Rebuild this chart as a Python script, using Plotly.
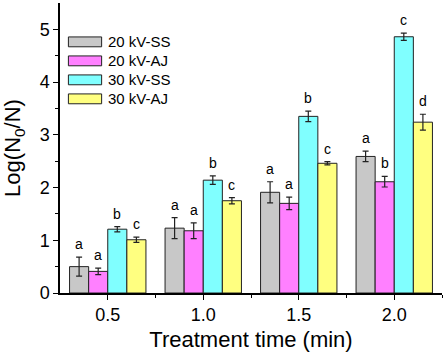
import plotly.graph_objects as go

times = [0.5, 1.0, 1.5, 2.0]
series_names = ["20 kV-SS", "20 kV-AJ", "30 kV-SS", "30 kV-AJ"]
values_20ss = [0.50, 1.23, 1.91, 2.59]
values_20aj = [0.41, 1.18, 1.70, 2.11]
values_30ss = [1.21, 2.14, 3.35, 4.86]
values_30aj = [1.01, 1.75, 2.46, 3.24]
err_20ss = [0.18, 0.20, 0.20, 0.10]
err_20aj = [0.06, 0.15, 0.12, 0.10]
err_30ss = [0.05, 0.08, 0.10, 0.07]
err_30aj = [0.05, 0.06, 0.03, 0.15]
letters_20ss = ["a", "a", "a", "a"]
letters_20aj = ["a", "a", "a", "b"]
letters_30ss = ["b", "b", "b", "c"]
letters_30aj = ["c", "c", "c", "d"]
colors = ["#C8C8C8", "#FF80FF", "#80FFFF", "#FFFF80"]

values = [values_20ss, values_20aj, values_30ss, values_30aj]
errors = [err_20ss, err_20aj, err_30ss, err_30aj]
letters = [letters_20ss, letters_20aj, letters_30ss, letters_30aj]

FONT = "Liberation Sans, Arial, sans-serif"
fig = go.Figure()
bar_w = 0.1
offsets = [-1.5 * bar_w, -0.5 * bar_w, 0.5 * bar_w, 1.5 * bar_w]

for i, name in enumerate(series_names):
    fig.add_trace(go.Bar(
        x=times, y=values[i], name=name,
        marker=dict(color=colors[i], line=dict(color="#222222", width=1)),
        error_y=dict(type="data", array=errors[i], color="#222222", thickness=1.2, width=3),
        showlegend=False,
    ))

annotations = []
for i in range(4):
    for j, t in enumerate(times):
        annotations.append(dict(
            x=t + offsets[i], y=values[i][j] + errors[i][j], xref="x", yref="y",
            text=letters[i][j], showarrow=False, yanchor="bottom", yshift=3,
            font=dict(family=FONT, size=14, color="black"),
        ))

# manual legend (rectangles + labels)
leg_x0, leg_x1 = 0.022, 0.109
leg_y_top = 0.866
row_h = 0.0655
box_h = 0.034
for i, name in enumerate(series_names):
    yc = leg_y_top - i * row_h
    fig.add_shape(type="rect", xref="paper", yref="paper",
                  x0=leg_x0, x1=leg_x1, y0=yc - box_h / 2, y1=yc + box_h / 2,
                  fillcolor=colors[i], line=dict(color="#222222", width=1))
    annotations.append(dict(x=leg_x1 + 0.012, y=yc, xref="paper", yref="paper",
                            text=name, showarrow=False, xanchor="left", yanchor="middle",
                            font=dict(family=FONT, size=15, color="black")))

fig.update_layout(
    width=447, height=356,
    margin=dict(l=60, r=5, t=3, b=63, autoexpand=False),
    paper_bgcolor="white", plot_bgcolor="white",
    barmode="group", bargap=0.2, bargroupgap=0,
    font=dict(family=FONT, color="black"),
    annotations=annotations,
    xaxis=dict(
        range=[0.25, 2.25], tickvals=times, ticktext=["0.5", "1.0", "1.5", "2.0"],
        showline=True, linecolor="black", linewidth=1.5, mirror=False,
        ticks="outside", ticklen=5, tickwidth=1.2, tickcolor="black",
        minor=dict(tickvals=[0.75, 1.25, 1.75, 2.25], ticks="outside", ticklen=3, tickwidth=1.2, tickcolor="black"),
        showgrid=False, zeroline=False, automargin=False,
        tickfont=dict(family=FONT, size=18),
        title=dict(text="Treatment time (min)", font=dict(family=FONT, size=22), standoff=7),
    ),
    yaxis=dict(
        range=[0, 5.5], tickvals=[0, 1, 2, 3, 4, 5],
        showline=True, linecolor="black", linewidth=1.5, mirror=False,
        ticks="outside", ticklen=5, tickwidth=1.2, tickcolor="black",
        minor=dict(tickvals=[0.5, 1.5, 2.5, 3.5, 4.5], ticks="outside", ticklen=3, tickwidth=1.2, tickcolor="black"),
        showgrid=False, zeroline=False, automargin=False,
        tickfont=dict(family=FONT, size=18),
        title=dict(text="Log(N<sub>0</sub>/N)", font=dict(family=FONT, size=22), standoff=14),
    ),
)

fig.write_html("out.html", config={"displayModeBar": False},
               post_script="document.body.style.margin='0px';document.body.style.overflow='hidden';")
